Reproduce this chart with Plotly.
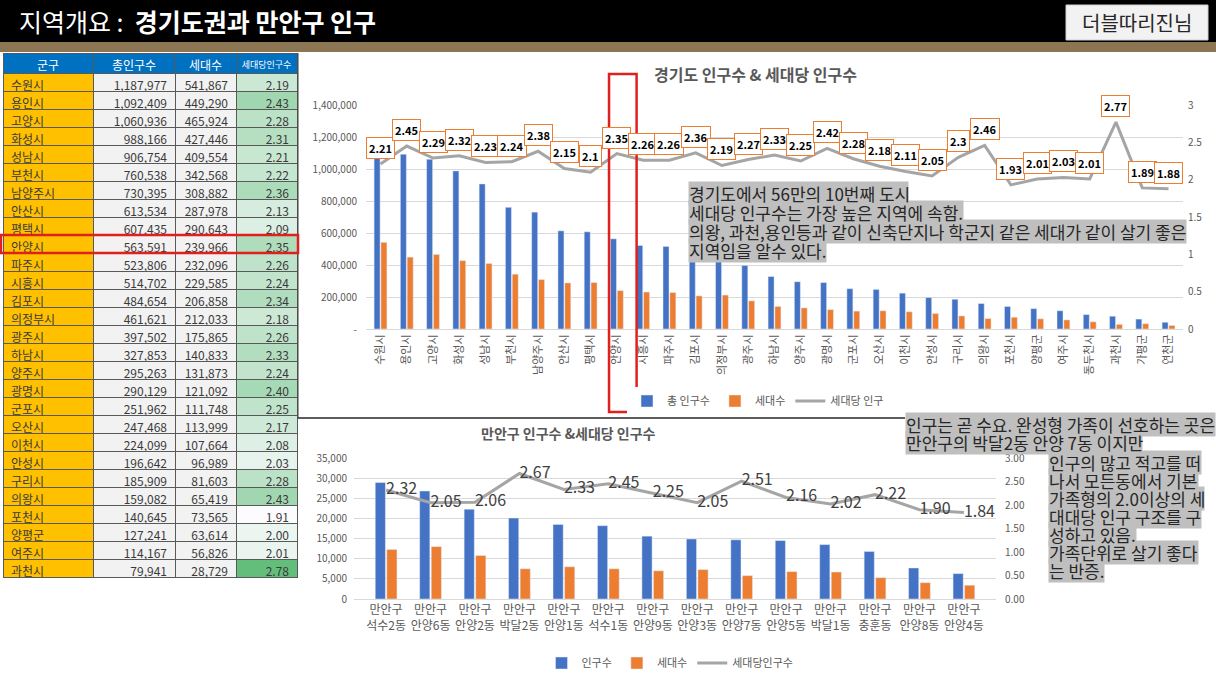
import plotly.graph_objects as go

W, H = 1216, 684
FONT = "Noto Sans CJK KR"

# ---- 경기도 시군 (차트) ----
gg_regions = ["수원시", "용인시", "고양시", "화성시", "성남시", "부천시", "남양주시", "안산시",
              "평택시", "안양시", "시흥시", "파주시", "김포시", "의정부시", "광주시", "하남시",
              "양주시", "광명시", "군포시", "오산시", "이천시", "안성시", "구리시", "의왕시",
              "포천시", "양평군", "여주시", "동두천시", "과천시", "가평군", "연천군"]
gg_pop = [1187977, 1092409, 1060936, 988166, 906754, 760538, 730395, 613534,
          607435, 563591, 522000, 516000, 484654, 461621, 397502, 327853,
          295263, 290129, 251962, 247468, 224099, 196642, 185909, 159082,
          140645, 127241, 114167, 90000, 79941, 62000, 42000]
gg_households = [541867, 449290, 465924, 427446, 409554, 342568, 308882, 287978,
                 290643, 239966, 231000, 228000, 206858, 212033, 175865, 140833,
                 131873, 121092, 111748, 113999, 107664, 96989, 81603, 65419,
                 73565, 63614, 56826, 45000, 28729, 33000, 22000]
gg_ratio = [2.21, 2.45, 2.29, 2.32, 2.23, 2.24, 2.38, 2.15, 2.1, 2.35, 2.26, 2.26,
            2.36, 2.19, 2.27, 2.33, 2.25, 2.42, 2.28, 2.18, 2.11, 2.05, 2.3, 2.46,
            1.93, 2.01, 2.03, 2.01, 2.77, 1.89, 1.88]

# ---- 표 ----
tbl_regions = ["수원시", "용인시", "고양시", "화성시", "성남시", "부천시", "남양주시", "안산시",
               "평택시", "안양시", "파주시", "시흥시", "김포시", "의정부시", "광주시", "하남시",
               "양주시", "광명시", "군포시", "오산시", "이천시", "안성시", "구리시", "의왕시",
               "포천시", "양평군", "여주시", "과천시"]
tbl_pop = [1187977, 1092409, 1060936, 988166, 906754, 760538, 730395, 613534,
           607435, 563591, 523806, 514702, 484654, 461621, 397502, 327853,
           295263, 290129, 251962, 247468, 224099, 196642, 185909, 159082,
           140645, 127241, 114167, 79941]
tbl_households = [541867, 449290, 465924, 427446, 409554, 342568, 308882, 287978,
                  290643, 239966, 232096, 229585, 206858, 212033, 175865, 140833,
                  131873, 121092, 111748, 113999, 107664, 96989, 81603, 65419,
                  73565, 63614, 56826, 28729]
tbl_ratio = [2.19, 2.43, 2.28, 2.31, 2.21, 2.22, 2.36, 2.13, 2.09, 2.35, 2.26, 2.24,
             2.34, 2.18, 2.26, 2.33, 2.24, 2.40, 2.25, 2.17, 2.08, 2.03, 2.28, 2.43,
             1.91, 2.00, 2.01, 2.78]

# ---- 만안구 동별 ----
ma_dong = ["석수2동", "안양6동", "안양2동", "박달2동", "안양1동", "석수1동", "안양9동",
           "안양3동", "안양7동", "안양5동", "박달1동", "충훈동", "안양8동", "안양4동"]
ma_pop = [28900, 26800, 22300, 20100, 18500, 18200, 15600, 14900, 14700, 14500,
          13500, 11800, 7700, 6300]
ma_households = [12300, 13000, 10800, 7500, 8000, 7500, 7000, 7300, 5800, 6800,
                 6700, 5300, 4050, 3420]
ma_ratio = [2.32, 2.05, 2.06, 2.67, 2.33, 2.45, 2.25, 2.05, 2.51, 2.16, 2.02, 2.22,
            1.90, 1.84]

BLUE, ORANGE, GREY = "#4472c4", "#ed7d31", "#a5a5a5"
TXT = "#595959"
HILITE = "#bfbfbf"
NOTE_SIZE = 17
# hangul in this font advances ~0.926em, the blank filler advances 1em
BLANK_SIZE = NOTE_SIZE * 0.926


def px_x(p):
    return p / W


def px_y(p):
    return 1 - p / H


def green(v):
    lo, hi = min(tbl_ratio), max(tbl_ratio)
    t = (v - lo) / (hi - lo)
    r = round(252 + (99 - 252) * t)
    g = round(252 + (190 - 252) * t)
    b = round(255 + (123 - 255) * t)
    return f"rgb({r},{g},{b})"


def blank(s):
    # same-width blank string, used only to size the grey highlight behind a line
    out = []
    for ch in s:
        if "\uac00" <= ch <= "\ud7a3":
            out.append("\u3000")
        elif ch.isdigit():
            out.append("\u2007")
        elif ch == " ":
            out.append("\u00a0")
        else:
            out.append("\u2008")
    return "".join(out)


def paper_note(x, y, text, size=NOTE_SIZE, color="#262626", bold=False, bg=None,
               xanchor="left"):
    d = dict(x=px_x(x), y=px_y(y), xref="paper", yref="paper", xanchor=xanchor,
             yanchor="middle", showarrow=False,
             text=f"<b>{text}</b>" if bold else text,
             font=dict(size=size, color=color), borderpad=0)
    if bg:
        d["bgcolor"] = bg
    return d


fig = go.Figure()

# table
n = len(tbl_regions)
fig.add_trace(go.Table(
    domain=dict(x=[px_x(3), px_x(297)], y=[px_y(584), px_y(53)]),
    columnwidth=[90, 82, 61, 61],
    header=dict(
        values=["군구", "총인구수", "세대수", "세대당인구수"],
        fill_color="#0070c0", line=dict(color="#595959", width=1), height=20,
        font=dict(family=FONT, color="white", size=[12, 12, 12, 9]),
        align="center"),
    cells=dict(
        values=[tbl_regions,
                [f"{v:,}" for v in tbl_pop],
                [f"{v:,}" for v in tbl_households],
                [f"{v:.2f}" for v in tbl_ratio]],
        fill_color=[["#ffc000"] * n, ["#f2f2f2"] * n, ["#f2f2f2"] * n,
                    [green(v) for v in tbl_ratio]],
        line=dict(color="#595959", width=1), height=18,
        font=dict(family=FONT, color="#3a3a3a", size=12),
        align=["left", "right", "right", "right"]),
))

# 경기도 chart
fig.add_trace(go.Bar(x=gg_regions, y=gg_pop, name="총 인구수", marker_color=BLUE,
                     xaxis="x", yaxis="y", legend="legend"))
fig.add_trace(go.Bar(x=gg_regions, y=gg_households, name="세대수", marker_color=ORANGE,
                     xaxis="x", yaxis="y", legend="legend"))
fig.add_trace(go.Scatter(x=gg_regions, y=gg_ratio, name="세대당 인구", mode="lines",
                         line=dict(color=GREY, width=3), xaxis="x", yaxis="y2",
                         legend="legend"))

# 만안구 chart
ma_labels = [f"만안구<br>{d}" for d in ma_dong]
fig.add_trace(go.Bar(x=ma_labels, y=ma_pop, name="인구수", marker_color=BLUE,
                     xaxis="x2", yaxis="y3", legend="legend2"))
fig.add_trace(go.Bar(x=ma_labels, y=ma_households, name="세대수", marker_color=ORANGE,
                     xaxis="x2", yaxis="y3", legend="legend2"))
fig.add_trace(go.Scatter(x=ma_labels, y=ma_ratio, name="세대당인구수", mode="lines+text",
                         text=[f"{v:.2f}" for v in ma_ratio], textposition="middle right",
                         textfont=dict(size=16, color="#404040"),
                         line=dict(color=GREY, width=3), xaxis="x2", yaxis="y4",
                         legend="legend2"))

annotations = []
# boxed labels on the 경기도 line
for r, v in zip(gg_regions, gg_ratio):
    annotations.append(dict(x=r, y=v, xref="x", yref="y2", yshift=16, showarrow=False,
                            xanchor="center", yanchor="middle",
                            text=f"<b>{v:g}</b>", font=dict(size=11, color="#000000"),
                            bgcolor="white", bordercolor=ORANGE, borderwidth=1, borderpad=2))

# header
annotations.append(paper_note(18, 21, "지역개요 :  <b>경기도권과 만안구 인구</b>",
                              size=25, color="white"))
annotations.append(paper_note(1137, 22, "더블따리진님", size=20, color="#262626",
                              xanchor="center"))

# chart titles
annotations.append(paper_note(755, 74, "경기도 인구수 & 세대당 인구수", size=16, color=TXT,
                              bold=True, xanchor="center"))
annotations.append(paper_note(568, 433, "만안구 인구수 &세대당 인구수", size=14, color=TXT,
                              bold=True, xanchor="center"))

# comment boxes: grey highlight strips first, text on top
note_lines = []
note1 = ["경기도에서 56만의 10번째 도시",
         "세대당 인구수는 가장 높은 지역에 속함.",
         "의왕, 과천,용인등과 같이 신축단지나 학군지 같은 세대가 같이 살기 좋은",
         "지역임을 알수 있다."]
note_lines += [(688, 193 + i * 19.3, t) for i, t in enumerate(note1)]
note2 = ["인구는 곧 수요. 완성형 가족이 선호하는 곳은", "만안구의 박달2동 안양 7동 이지만"]
note_lines += [(905, 424 + i * 18, t) for i, t in enumerate(note2)]
note3 = ["인구의 많고 적고를 떠", "나서 모든동에서 기본", "가족형의 2.0이상의 세",
         "대대당 인구 구조를 구", "성하고 있음.", "가족단위로 살기 좋다", "는 반증."]
note_lines += [(1048, 462 + i * 18, t) for i, t in enumerate(note3)]
for x, y, t in note_lines:
    annotations.append(paper_note(x, y, blank(t), size=BLANK_SIZE, color=HILITE, bg=HILITE))
for x, y, t in note_lines:
    annotations.append(paper_note(x, y, t))

shapes = [
    dict(type="rect", xref="paper", yref="paper", x0=0, x1=1, y0=px_y(42), y1=1,
         fillcolor="black", line_width=0, layer="below"),
    dict(type="rect", xref="paper", yref="paper", x0=0, x1=1, y0=px_y(52), y1=px_y(42),
         fillcolor="#8b7552", line_width=0, layer="below"),
    dict(type="rect", xref="paper", yref="paper", x0=px_x(1066), x1=px_x(1208),
         y0=px_y(40), y1=px_y(5), fillcolor="#f2f2f2", line=dict(color="#d0d0d0", width=1)),
    # separators
    dict(type="line", xref="paper", yref="paper", x0=px_x(298), x1=px_x(298),
         y0=px_y(418), y1=px_y(53), line=dict(color="#404040", width=1)),
    dict(type="line", xref="paper", yref="paper", x0=px_x(298), x1=px_x(905),
         y0=px_y(418), y1=px_y(418), line=dict(color="#262626", width=1.5)),
    # highlight boxes
    dict(type="rect", xref="x", yref="paper", x0=8.7, x1=9.75, y0=px_y(412), y1=px_y(74),
         line=dict(color="#e0201e", width=2.5)),
    dict(type="rect", xref="paper", yref="paper", x0=px_x(1), x1=px_x(298),
         y0=px_y(53 + 20 + 10 * 18), y1=px_y(53 + 20 + 9 * 18),
         line=dict(color="#e0201e", width=2.5)),
]

axis_font = dict(size=10, color=TXT)
fig.update_layout(
    width=W, height=H, margin=dict(l=0, r=0, t=0, b=0, pad=0, autoexpand=False),
    paper_bgcolor="white", plot_bgcolor="white",
    font=dict(family=FONT, color=TXT),
    barmode="group", bargap=0.48, bargroupgap=0.12,
    xaxis=dict(domain=[px_x(366), px_x(1183)], anchor="y", type="category",
               tickangle=-90, tickfont=dict(size=11, color=TXT), showgrid=False,
               showline=True, linecolor="#d9d9d9", ticks="", automargin=False),
    yaxis=dict(domain=[px_y(329), px_y(105)], anchor="x", range=[0, 1400000],
               tickvals=list(range(0, 1400001, 200000)),
               ticktext=["-"] + [f"{v:,}" for v in range(200000, 1400001, 200000)],
               gridcolor="#d9d9d9", zeroline=False, tickfont=axis_font,
               ticklabelstandoff=8, automargin=False),
    yaxis2=dict(overlaying="y", side="right", anchor="x", range=[0, 3], dtick=0.5,
                showgrid=False, zeroline=False, tickfont=axis_font, ticklabelstandoff=4,
                automargin=False),
    xaxis2=dict(domain=[px_x(354), px_x(996)], anchor="y3", type="category",
                tickfont=dict(size=12, color=TXT), showgrid=False,
                showline=True, linecolor="#d9d9d9", ticks="", automargin=False),
    yaxis3=dict(domain=[px_y(599), px_y(458)], anchor="x2", range=[0, 35000],
                dtick=5000, tickformat=",", gridcolor="#d9d9d9", zeroline=False,
                tickfont=axis_font, ticklabelstandoff=6, automargin=False),
    yaxis4=dict(overlaying="y3", side="right", anchor="x2", range=[0, 3], dtick=0.5,
                tickformat=".2f", showgrid=False, zeroline=False, tickfont=axis_font,
                ticklabelstandoff=8, automargin=False),
    legend=dict(orientation="h", x=px_x(758), y=px_y(401), xanchor="center",
                yanchor="middle", font=dict(size=11, color=TXT)),
    legend2=dict(orientation="h", x=px_x(670), y=px_y(663), xanchor="center",
                 yanchor="middle", font=dict(size=11, color=TXT)),
    annotations=annotations,
    shapes=shapes,
)

# page body has a default 8px margin; drop it so the figure sits at the window corner
fig.write_html("out.html", config={"displayModeBar": False},
               post_script="document.body.style.margin = '0px';")
